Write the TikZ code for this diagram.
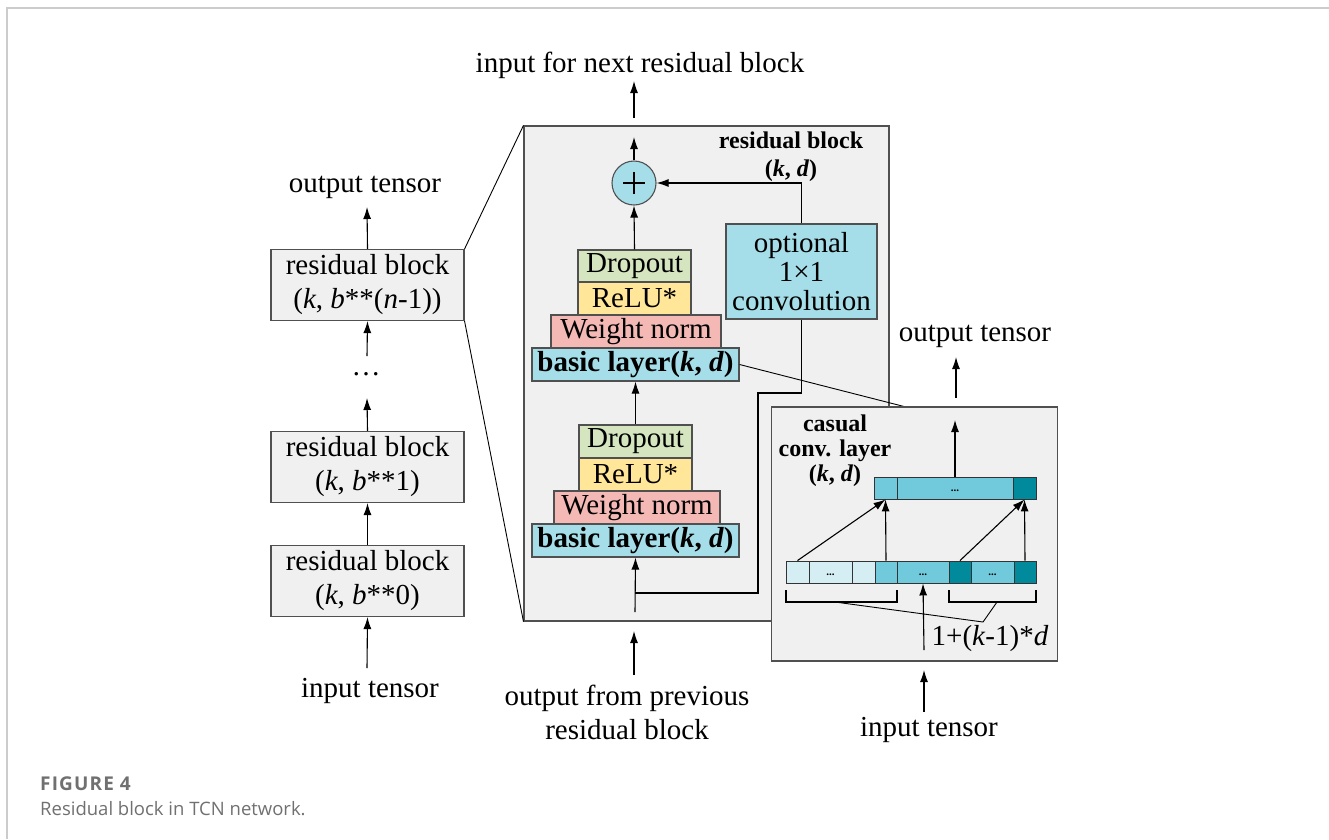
\documentclass[tikz,border=0pt]{standalone}
\usepackage{fontspec}
\setmainfont{Liberation Serif}
\newfontfamily\capfont{Open Sans}
\newfontfamily\capheadfont[LetterSpace=6]{Open Sans}
\usetikzlibrary{arrows.meta}
\definecolor{panelgray}{HTML}{F0F0F0}
\definecolor{edgegray}{HTML}{505050}
\definecolor{framegray}{HTML}{CCCCCC}
\definecolor{capgray}{HTML}{707070}
\definecolor{dropcol}{HTML}{D5E5BF}
\definecolor{relucol}{HTML}{FFE699}
\definecolor{wncol}{HTML}{F4B9B5}
\definecolor{cyanbox}{HTML}{A5DEE8}
\definecolor{cellL}{HTML}{D5EEF3}
\definecolor{cellM}{HTML}{70CADB}
\definecolor{cellD}{HTML}{008A9B}
\begin{document}
\begin{tikzpicture}[x=1pt,y=-1pt,
  every node/.style={font=\fontsize{29}{34}\selectfont, inner sep=0pt},
  box/.style={draw=edgegray, line width=1.1pt, anchor=center},
  lbox/.style={box, fill=panelgray, minimum width=193pt, minimum height=71pt, align=center},
  panel/.style={draw=edgegray, line width=1.1pt, fill=panelgray, anchor=center},
  layer/.style={box, minimum height=33pt},
  cell/.style={draw=black!80, line width=0.9pt, minimum height=22pt, anchor=center},
  dots/.style={font=\fontsize{11}{11}\selectfont\bfseries},
  arr/.style={-{Latex[length=12pt,width=8pt]}, line width=1.1pt},
  conn/.style={line width=1.1pt},
  zoomline/.style={line width=0.9pt},
  boldlab/.style={font=\fontsize{24}{27}\selectfont\bfseries, align=center}
]
\useasboundingbox (0,0) rectangle (1329,839);

% page frame
\draw[framegray, line width=2pt] (7,839) -- (7,8) -- (1329,8);

% ---------- stack of residual blocks ----------
\node[lbox] (rbn) at (367.5,285) {residual block\\(\textit{k}, \textit{b}**(\textit{n}-1))};
\node[lbox] (rb1) at (367.5,467) {residual block\\(\textit{k}, \textit{b}**1)};
\node[lbox] (rb0) at (367.5,581) {residual block\\(\textit{k}, \textit{b}**0)};
\node (outL) at (365,187) {output tensor};
\node (inL) at (370,691) {input tensor};
\node (dotsL) at (366,374) {\ldots};
\coordinate (outLa) at (367,207);
\coordinate (dA) at (367,356);
\coordinate (dB) at (367,398);
\coordinate (inLa) at (367,668);
\draw[arr] (rbn.north) -- (outLa);
\draw[arr] (dA) -- (rbn.south);
\draw[arr] (rb1.north) -- (dB);
\draw[arr] (rb0.north) -- (rb1.south);
\draw[arr] (inLa) -- (rb0.south);

% ---------- expanded residual block ----------
\node[panel, minimum width=365pt, minimum height=495pt] (rbp) at (706.5,373.5) {};
\draw[zoomline] (rbn.north east) -- (rbp.north west);
\draw[zoomline] (rbn.south east) -- (rbp.south west);
\node[boldlab, font=\fontsize{24}{28}\selectfont\bfseries] (rbpl) at (791,157) {residual block\\(\textit{k}, \textit{d})};

\node[circle, draw=edgegray, line width=1.1pt, fill=cyanbox, minimum size=44pt] (sum) at (634,183) {};
\draw[line width=1.6pt] ([xshift=-11pt]sum.center) -- ([xshift=11pt]sum.center);
\draw[line width=1.6pt] ([yshift=-11pt]sum.center) -- ([yshift=11pt]sum.center);

% upper layer stack
\node[layer, fill=dropcol, minimum width=113pt, minimum height=32pt] (do1) at (634.5,266) {Dropout};
\node[layer, fill=relucol, minimum width=113pt] (re1) at (634.5,298.5) {ReLU*};
\node[layer, fill=wncol, minimum width=170pt] (wn1) at (636,331.5) {Weight norm};
\node[layer, fill=cyanbox, minimum width=207pt, font=\fontsize{29}{34}\selectfont\bfseries] (bl1) at (635.5,364.5) {basic layer(\textit{k}, \textit{d})};
% lower layer stack
\node[layer, fill=dropcol, minimum width=113pt] (do2) at (635.5,441.5) {Dropout};
\node[layer, fill=relucol, minimum width=113pt] (re2) at (635.5,474.5) {ReLU*};
\node[layer, fill=wncol, minimum width=166pt] (wn2) at (637,507.5) {Weight norm};
\node[layer, fill=cyanbox, minimum width=207pt, font=\fontsize{29}{34}\selectfont\bfseries] (bl2) at (635.5,540.5) {basic layer(\textit{k}, \textit{d})};

\node[box, fill=cyanbox, minimum width=151pt, minimum height=95pt, align=center, font=\fontsize{29}{29}\selectfont] (conv) at (801.5,271.5) {optional\\1×1\\convolution};

\coordinate (sumout) at (634,137);
\coordinate (pin) at (635,612);
\coordinate (sk1) at (758,393);
\coordinate (sk2) at (635,593);
\draw[arr] (sum.north) -- (sumout);
\draw[arr] (do1.north) -- (sum.south);
\draw[arr] (conv.north) |- (sum.east);
\draw[arr] (do2.north) -- (bl1.south);
\draw[arr] (pin) -- (bl2.south);
\draw[conn] (conv.south) |- (sk1) |- (sk2);

\node (nextin) at (640,65) {input for next residual block};
\coordinate (nx1) at (634,118);
\coordinate (nx2) at (634,81);
\draw[arr] (nx1) -- (nx2);

\node[align=center] (prevout) at (627,712) {output from previous\\residual block};
\coordinate (pv1) at (634,675);
\coordinate (pv2) at (634,631);
\draw[arr] (pv1) -- (pv2);

% ---------- causal convolution layer ----------
\coordinate (cpt) at (906,407);
\draw[zoomline] (bl1.east) -- (cpt);
\node[panel, minimum width=286pt, minimum height=254pt] (ccp) at (914.5,534) {};
\node[boldlab, font=\fontsize{24}{25}\selectfont\bfseries] (ccl) at (835,451) {casual\\conv. layer\\(\textit{k}, \textit{d})};

% input row
\node[cell, fill=cellL, minimum width=23pt] (b1) at (797.5,572) {};
\node[cell, fill=cellL, minimum width=43pt] (b2) at (830.5,572) {};
\node[cell, fill=cellL, minimum width=23pt] (b3) at (863.5,572) {};
\node[cell, fill=cellM, minimum width=22pt] (b4) at (886,572) {};
\node[cell, fill=cellM, minimum width=52pt] (b5) at (923,572) {};
\node[cell, fill=cellD, minimum width=22pt] (b6) at (960,572) {};
\node[cell, fill=cellM, minimum width=43pt] (b7) at (992.5,572) {};
\node[cell, fill=cellD, minimum width=22pt] (b8) at (1025,572) {};
\node[dots] at (830.5,575) {...};
\node[dots] at (923,575) {...};
\node[dots] at (992.5,575) {...};
% output row
\node[cell, fill=cellM, minimum width=23pt] (t1) at (885.5,488) {};
\node[cell, fill=cellM, minimum width=116pt] (t2) at (955,488) {};
\node[cell, fill=cellD, minimum width=23pt] (t3) at (1024.5,488) {};
\node[dots] at (955,491) {...};

\draw[arr] (b1.north) -- (t1.south);
\draw[arr] (b4.north) -- (t1.south);
\draw[arr] (b6.north) -- (t3.south);
\draw[arr] (b8.north) -- (t3.south);

% receptive field brackets
\draw[conn] (786,590) -- (786,602) -- (897,602) -- (897,590);
\draw[conn] (949,590) -- (949,602) -- (1036,602) -- (1036,590);
\coordinate (bjoin) at (983,622);
\draw[zoomline] (835,602) -- (bjoin) -- (997,602);
\node (rf) at (990,639) {1+(\textit{k}-1)*\textit{d}};

\coordinate (cin) at (924,650);
\draw[arr] (cin) -- (b5.south);
\coordinate (cout) at (955,420);
\draw[arr] (t2.north) -- (cout);

\node (outR) at (975,336) {output tensor};
\coordinate (co1) at (956,398);
\coordinate (co2) at (956,357);
\draw[arr] (co1) -- (co2);

\node (inR) at (929,730) {input tensor};
\coordinate (ci1) at (924,712);
\coordinate (ci2) at (924,670);
\draw[arr] (ci1) -- (ci2);

% ---------- caption ----------
\node[anchor=west, text=capgray, font=\capheadfont\fontsize{19}{19}\selectfont\bfseries] (capt) at (40,784) {FIGURE 4};
\node[anchor=west, text=capgray, font=\capfont\fontsize{18.5}{18.5}\selectfont] (capb) at (40,809) {Residual block in TCN network.};
\end{tikzpicture}
\end{document}
